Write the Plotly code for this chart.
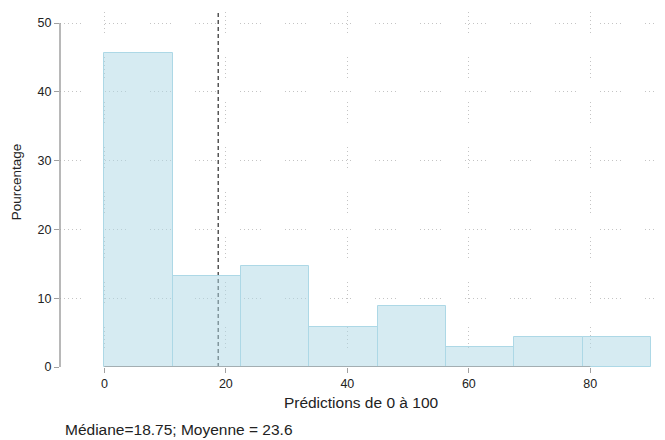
import plotly.graph_objects as go

# Data
bin_edges = [0, 11.25, 22.5, 33.75, 45, 56.25, 67.5, 78.75, 90]
percentages = [45.59, 13.24, 14.71, 5.88, 8.82, 2.94, 4.41, 4.41]
median_value = 18.75
mean_value = 23.6
x_ticks = [0, 20, 40, 60, 80]
y_ticks = [0, 10, 20, 30, 40, 50]

centers = [(a + b) / 2 for a, b in zip(bin_edges[:-1], bin_edges[1:])]
widths = [b - a for a, b in zip(bin_edges[:-1], bin_edges[1:])]

FONT = "Liberation Sans, Arial, sans-serif"
AXIS_COLOR = "#a0a0a0"
GRID_DASH = "1px,3px,1px,3px,1px,3px,1px,3px,1px,3px,1px,24px"

fig = go.Figure()
fig.add_trace(go.Bar(
    x=centers, y=percentages, width=widths,
    marker=dict(color="rgba(173,216,230,0.5)", line=dict(color="#add8e6", width=1)),
    showlegend=False,
))

shapes = [
    # median line
    dict(type="line", xref="x", yref="paper", x0=median_value, x1=median_value, y0=0, y1=1,
         line=dict(color="#555555", width=1.5, dash="4px,3px"), layer="between"),
    # y axis line (only between first and last tick)
    dict(type="line", xref="paper", yref="y", x0=0, x1=0, y0=y_ticks[0], y1=y_ticks[-1],
         line=dict(color=AXIS_COLOR, width=1.5), layer="above"),
    # x axis line (only between first and last tick)
    dict(type="line", xref="x", yref="y", x0=x_ticks[0], x1=x_ticks[-1], y0=0, y1=0,
         line=dict(color=AXIS_COLOR, width=1.5), layer="above"),
]

fig.update_layout(
    width=657, height=432,
    margin=dict(l=52, r=3, t=4, b=73),
    paper_bgcolor="white", plot_bgcolor="white",
    font=dict(family=FONT, color="#222222", size=12.5),
    bargap=0,
    shapes=shapes,
    xaxis=dict(
        range=[-7.3, 91.8], tickvals=x_ticks, ticks="outside", ticklen=5,
        tickcolor=AXIS_COLOR, tickwidth=1, showline=False, zeroline=False,
        showgrid=True, gridcolor="#c4c4c4", griddash=GRID_DASH, gridwidth=1,
        tickfont=dict(size=12.5), automargin=False,
        title=dict(text="Prédictions de 0 à 100", font=dict(size=15.5), standoff=7),
    ),
    yaxis=dict(
        range=[0, 51.6], tickvals=y_ticks, ticks="outside", ticklen=5,
        tickcolor=AXIS_COLOR, tickwidth=1, showline=False, zeroline=False,
        showgrid=True, gridcolor="#c4c4c4", griddash=GRID_DASH, gridwidth=1,
        tickfont=dict(size=12.5), automargin=False,
    ),
    annotations=[
        dict(
            text="Pourcentage", textangle=-90,
            xref="paper", yref="paper", x=0, y=0.522, xshift=-43.5,
            xanchor="center", yanchor="middle", showarrow=False,
            font=dict(size=13.5, family=FONT, color="#222222"),
        ),
        dict(
            text=f"Médiane={median_value}; Moyenne = {mean_value}",
            xref="paper", yref="paper", x=0.0045, y=-0.2056,
            xanchor="left", yanchor="bottom", showarrow=False,
            font=dict(size=15.5, family=FONT, color="#222222"),
        ),
    ],
)

fig.write_html("out.html")
